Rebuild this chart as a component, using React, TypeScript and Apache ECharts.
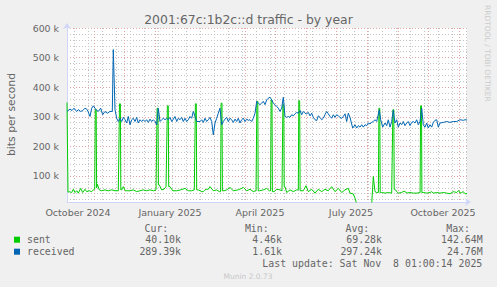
import React, { useEffect, useRef } from 'react';
import * as echarts from 'echarts';

// ---- time frame: day 0 = 2024-10-05, 400 days ----
const START_UTC = Date.UTC(2024, 9, 5);
const DAY_MS = 86400000;
const SPAN_DAYS = 400;
const MONTH_NAMES = ['January', 'February', 'March', 'April', 'May', 'June', 'July', 'August', 'September', 'October', 'November', 'December'];

const monthGridDates = ['2024-11-01', '2024-12-01', '2025-01-01', '2025-02-01', '2025-03-01', '2025-04-01', '2025-05-01', '2025-06-01', '2025-07-01', '2025-08-01', '2025-09-01', '2025-10-01', '2025-11-01'];
const labelDates = ['2024-10-16', '2025-01-16', '2025-04-16', '2025-07-16', '2025-10-16'];
const minorGridDays = [7, 21, 35, 49, 63, 77, 91, 105, 119, 133, 147, 161, 175, 189, 203, 217, 231, 245, 259, 273, 287, 301, 315, 329, 343, 357, 371, 385, 399];

// ---- y axis (kilobits per second) ----
const yMin = 12;
const yMax = 600;
const yLabelValues = [100, 200, 300, 400, 500, 600];
const yMinorValues = [20, 40, 60, 80, 120, 140, 160, 180, 220, 240, 260, 280, 320, 340, 360, 380, 420, 440, 460, 480, 520, 540, 560, 580];

const title = '2001:67c:1b2c::d traffic - by year';
const yAxisTitle = 'bits per second';
const seriesNames = ['sent', 'received'];
const seriesColors = ['#00cc00', '#0066b3'];
const curValues = ['40.10k', '289.39k'];
const minValues = ['4.46k', '1.61k'];
const avgValues = ['69.28k', '297.24k'];
const maxValues = ['142.64M', '24.76M'];
const lastUpdate = 'Last update: Sat Nov  8 01:00:14 2025';
const footer = 'Munin 2.0.73';
const watermark = 'RRDTOOL / TOBI OETIKER';

// [day, kbit/s]
const sentPoints: [number, number][] = [
  [0, 348], [1, 45], [2.3, 47], [4.7, 44], [6.3, 55], [8, 44], [9.7, 50], [11.3, 42], [13.7, 58], [15.7, 44], [18, 55], [19.7, 47], [22.3, 50], [24.7, 47], [26.3, 53], [27.7, 55],
  [28.3, 324], [29.2, 324], [29.6, 60], [30.3, 72], [32.3, 53], [34.7, 50], [38, 53], [41.3, 50], [44.7, 53], [48, 50], [51.3, 50],
  [52.5, 344], [53.4, 344], [53.8, 53], [54.7, 53], [56.3, 64], [58.3, 50], [63, 50], [66.3, 53], [69.7, 47], [73, 50], [76.3, 53], [79.7, 50], [83, 53], [86.3, 50], [89, 53],
  [90.1, 329], [91, 329], [91.4, 70], [92.3, 70], [94.7, 53], [97, 55], [99, 64],
  [100.4, 337], [101.3, 337], [101.7, 64], [103, 64], [105.7, 50], [109.7, 50], [113.7, 53], [118, 58], [121.3, 50], [124.7, 50], [127.3, 53],
  [128.4, 344], [129.3, 344], [129.7, 53], [131.3, 53], [134.7, 47], [136.3, 47], [138, 53], [139.7, 55], [141.3, 55], [143, 64], [146.3, 50], [149.7, 53], [152.3, 47], [153.6, 47],
  [154.1, 346], [155, 346], [155.4, 50], [157, 50], [159.7, 53], [163, 61], [166.3, 50], [171.3, 53], [176.3, 61], [179.7, 50], [183, 55], [186.3, 47], [189, 50],
  [189.9, 352], [190.8, 352], [191.2, 50], [192.3, 50], [196.3, 53], [199.7, 58], [202.3, 50], [203.6, 50],
  [204.1, 357], [205, 357], [205.4, 47], [207, 47], [209.7, 55], [213, 53], [215, 50], [215.4, 50],
  [215.9, 341], [216.8, 341], [217.2, 64], [218, 64], [219.7, 44], [223, 53], [226.3, 47], [229.7, 53], [231.3, 53],
  [231.8, 354], [232.7, 354], [233.1, 50], [236.3, 50], [239, 67], [241.3, 47], [244.7, 55], [248, 42], [251.3, 55], [254.7, 47], [258, 55], [261.3, 50], [264.7, 64], [268, 47], [271.3, 58], [274.7, 44], [278, 53], [281.3, 58],
  [283, 42], [286.3, 39], [288, 25], [289.7, 5], [304.7, 5], [306.3, 98], [308, 47], [309.7, 44], [311.4, 44],
  [311.9, 329], [312.8, 329], [313.2, 44], [314.7, 44], [318, 42], [321.3, 44], [324.7, 42], [325.4, 42],
  [325.9, 324], [326.8, 324], [327.2, 55], [328, 55], [329.7, 47], [331.3, 42], [334.7, 44], [337, 49], [340, 42], [343, 44], [346.3, 42], [350, 42], [353.1, 44],
  [353.6, 337], [354.5, 337], [354.9, 44], [356.3, 44], [359.7, 42], [363, 44], [364.7, 47], [366.3, 42], [369.7, 44], [373, 42], [376.3, 44], [379.7, 42], [383, 40], [386.3, 47], [389.7, 44], [391.7, 51], [393, 42], [394.7, 44], [396.3, 47], [398, 40], [400, 40],
];

const receivedPoints: [number, number][] = [
  [0, 318], [3, 326], [5, 321], [7, 329], [9.7, 318], [11.3, 324], [13.7, 318], [15.7, 321], [18, 329], [20.3, 324], [23, 301], [24.7, 329], [26.3, 337], [29, 324], [31.3, 318], [33.7, 329], [35.7, 307], [38, 318], [40.3, 312], [43, 318], [45.3, 318],
  [46.3, 527], [48, 324], [49.7, 295], [51.3, 284], [53, 295], [54.7, 284], [56.3, 298], [58, 290], [59.7, 279], [61.3, 301], [63, 273], [64.7, 290], [66.3, 295], [68, 284], [69.7, 298], [71.3, 279], [73, 290], [74.7, 284], [76.3, 290], [78, 284], [79.7, 290], [81.3, 281], [83, 292], [84.7, 284], [86.3, 290], [88, 284], [89.7, 273],
  [91.3, 329], [93, 284], [94.7, 290], [96.3, 295], [98, 290], [99.7, 295], [101.3, 290], [103, 298], [104.7, 284], [106.3, 292], [108, 301], [109.7, 284], [111.3, 295], [113, 290], [114.7, 298], [116.3, 284], [118, 295], [119.7, 284], [121.3, 290], [123, 301], [124.7, 295],
  [126.3, 318], [128, 301], [129.7, 284], [133, 284], [134.7, 290], [136.3, 281], [138, 295], [139.7, 284], [141.3, 290], [143, 298], [144.7, 284], [146.3, 239], [148, 279], [149.7, 295], [151.3, 312], [153, 329], [154.7, 273], [156.3, 284], [158, 292], [159.7, 298], [161.3, 284], [163, 295], [164.7, 290], [166.3, 281], [168, 292], [169.7, 284], [171.3, 295], [173, 279], [174.7, 290], [176.3, 295], [178, 284], [179.7, 292], [181.3, 288], [183, 290], [184.7, 284], [186.3, 295], [188, 312],
  [189.7, 352], [191.3, 346], [193, 341], [194.7, 346], [196.3, 352], [198, 341], [199.7, 357], [201.3, 363], [203, 366], [204.7, 357], [206.3, 346], [208, 341], [209.7, 335], [211.3, 329], [213, 318], [214.7, 329], [216.3, 366],
  [218, 301], [219.7, 298], [221.3, 301], [223, 298], [224.7, 307], [226.3, 303], [228, 310], [229.7, 315], [231.3, 312], [233, 321], [234.7, 307], [236.3, 318], [238, 312], [239.7, 310], [241.3, 315], [243, 303], [244.7, 312], [246.3, 298], [248, 290], [249.7, 287], [251.3, 303], [253, 298], [254.7, 290], [256.3, 295], [258, 307], [259.7, 318], [261.3, 310], [263, 301], [264.7, 295], [266.3, 307], [268, 298], [269.7, 307], [271.3, 303], [273, 298], [274.7, 295], [276.3, 301], [278, 310], [279.7, 284], [281.3, 312], [283, 298],
  [285.7, 262], [288, 273], [289.7, 262], [291.3, 270], [293, 265], [294.7, 273], [296.3, 265], [298, 273], [299.7, 270], [301.3, 279], [303, 276], [304.7, 281], [306.3, 284], [308, 290], [309.7, 284],
  [312.3, 324], [313.7, 290], [315.7, 265], [318, 279], [319.7, 270], [321.3, 290], [323, 265], [324.7, 284], [326.3, 322], [328, 279], [329.7, 290], [331.3, 265], [333, 279], [334.7, 273], [336.3, 284], [338, 270], [339.7, 279], [341.3, 284], [343, 270], [344.7, 281], [346.3, 284], [348, 279], [349.7, 290], [351.3, 273], [353, 284],
  [354.7, 329], [356.3, 273], [358, 265], [359.7, 279], [361.3, 262], [363, 273], [364.7, 265], [366.3, 281], [368, 288], [369.7, 290], [371.3, 265], [373, 279], [376.3, 281], [379.7, 284], [383, 281], [386.3, 284], [389.7, 284], [393, 290], [396.3, 288], [398, 290], [400, 289],
];

const toDay = (s: string) => (Date.parse(s + 'T00:00:00Z') - START_UTC) / DAY_MS;

const FONT = 'DejaVu Sans';
const MONO = 'DejaVu Sans Mono';
const TEXT = '#666666';
const AXIS = '#cfd6f8';
const MGRID = '#e3a3a3';
const GRID = '#c4c4c4';

export default function App() {
  const ref = useRef<HTMLDivElement>(null);
  useEffect(() => {
    document.body.style.margin = '0';
    document.body.style.background = '#f0f0f0';
    if (!ref.current) return;
    const chart = echarts.init(ref.current, null, { renderer: 'svg' });

    const columns = [
      { header: 'Cur:', headerX: 168.3, valueX: 181, values: curValues },
      { header: 'Min:', headerX: 268.7, valueX: 282, values: minValues },
      { header: 'Avg:', headerX: 369.3, valueX: 382, values: avgValues },
      { header: 'Max:', headerX: 470, valueX: 482.7, values: maxValues },
    ];
    const rowY = [239.7, 251.7];
    const mono = (text: string, x: number, y: number) => ({
      type: 'text', x, y, silent: true,
      style: { text, fill: TEXT, fontFamily: MONO, fontSize: 9.9, align: 'right', verticalAlign: 'middle' },
    });
    const graphics: any[] = [];
    columns.forEach((c) => {
      graphics.push(mono(c.header, c.headerX, 228.3));
      c.values.forEach((v, i) => graphics.push(mono(v, c.valueX, rowY[i])));
    });
    graphics.push(mono(lastUpdate, 482.3, 263.5));
    graphics.push({
      type: 'text', x: 248, y: 276.3, silent: true,
      style: { text: footer, fill: '#c8c8c8', fontFamily: FONT, fontSize: 7.5, align: 'center', verticalAlign: 'middle' },
    });
    graphics.push({
      type: 'text', x: 487.3, y: 53.3, rotation: -Math.PI / 2, silent: true,
      style: { text: watermark, fill: '#cccccc', fontFamily: FONT, fontSize: 7.5, align: 'center', verticalAlign: 'middle' },
    });
    graphics.push({
      type: 'text', x: 11, y: 114.5, rotation: Math.PI / 2, silent: true,
      style: { text: yAxisTitle, fill: TEXT, fontFamily: FONT, fontSize: 10.8, align: 'center', verticalAlign: 'middle' },
    });

    const monthDays = monthGridDates.map(toDay);
    const labelDays = labelDates.map(toDay);

    chart.setOption({
      animation: false,
      backgroundColor: '#f0f0f0',
      textStyle: { fontFamily: FONT },
      title: {
        text: title, left: 'center', top: 13, padding: 0,
        textStyle: { color: TEXT, fontFamily: FONT, fontSize: 12.4, fontWeight: 'normal' },
      },
      grid: {
        left: 67, top: 28, width: 400, height: 174, show: true, backgroundColor: '#ffffff', borderWidth: 0, z: 0,
        outerBoundsMode: 'none', containLabel: false,
      },
      legend: {
        data: seriesNames, orient: 'vertical', left: 14, top: 233.7, padding: 0, itemGap: 0,
        itemWidth: 6, itemHeight: 6, icon: 'rect', selectedMode: false,
        textStyle: { color: TEXT, fontFamily: MONO, fontSize: 9.9, lineHeight: 12, padding: [0, 0, 0, 2] },
      },
      xAxis: [
        {
          type: 'value', min: 0, max: SPAN_DAYS, z: 1,
          axisLine: { show: true, lineStyle: { color: AXIS, width: 1 }, symbol: ['none', 'arrow'], symbolSize: [6, 6], symbolOffset: [0, 4] },
          axisTick: { show: false, customValues: monthDays },
          splitLine: { show: true, lineStyle: { color: MGRID, width: 1, type: [1, 2] } },
          axisLabel: {
            customValues: labelDays, color: TEXT, fontFamily: FONT, fontSize: 9.5, margin: 5,
            formatter: (v: number) => {
              const d = new Date(START_UTC + v * DAY_MS);
              return `${MONTH_NAMES[d.getUTCMonth()]} ${d.getUTCFullYear()}`;
            },
          },
        },
        {
          type: 'value', min: 0, max: SPAN_DAYS, z: 1,
          axisLine: { show: false }, axisLabel: { show: false },
          axisTick: { show: false, customValues: minorGridDays },
          splitLine: { show: true, lineStyle: { color: GRID, width: 1, type: [1, 2] } },
        },
      ],
      yAxis: [
        {
          type: 'value', min: yMin, max: yMax, z: 1,
          axisLine: { show: true, lineStyle: { color: AXIS, width: 1 }, symbol: ['none', 'arrow'], symbolSize: [6, 6], symbolOffset: [0, 5] },
          axisTick: { show: false, customValues: yLabelValues },
          splitLine: { show: true, lineStyle: { color: MGRID, width: 1, type: [1, 2] } },
          axisLabel: { customValues: yLabelValues, color: TEXT, fontFamily: FONT, fontSize: 9.4, margin: 8, formatter: (v: number) => `${v} k` },
        },
        {
          type: 'value', min: yMin, max: yMax, z: 1,
          axisLine: { show: false }, axisLabel: { show: false },
          axisTick: { show: false, customValues: yMinorValues },
          splitLine: { show: true, lineStyle: { color: GRID, width: 1, type: [1, 2] } },
        },
      ],
      series: [
        {
          name: seriesNames[0], type: 'line', data: sentPoints, xAxisIndex: 0, yAxisIndex: 0,
          showSymbol: false, symbol: 'none', color: seriesColors[0], z: 3,
          lineStyle: { color: seriesColors[0], width: 1 }, clip: true,
        },
        {
          name: seriesNames[1], type: 'line', data: receivedPoints, xAxisIndex: 0, yAxisIndex: 0,
          showSymbol: false, symbol: 'none', color: seriesColors[1], z: 4,
          lineStyle: { color: seriesColors[1], width: 1 }, clip: true,
        },
      ],
      graphic: graphics,
    });
    return () => chart.dispose();
  }, []);
  return <div ref={ref} style={{ width: 497, height: 287 }} />;
}
